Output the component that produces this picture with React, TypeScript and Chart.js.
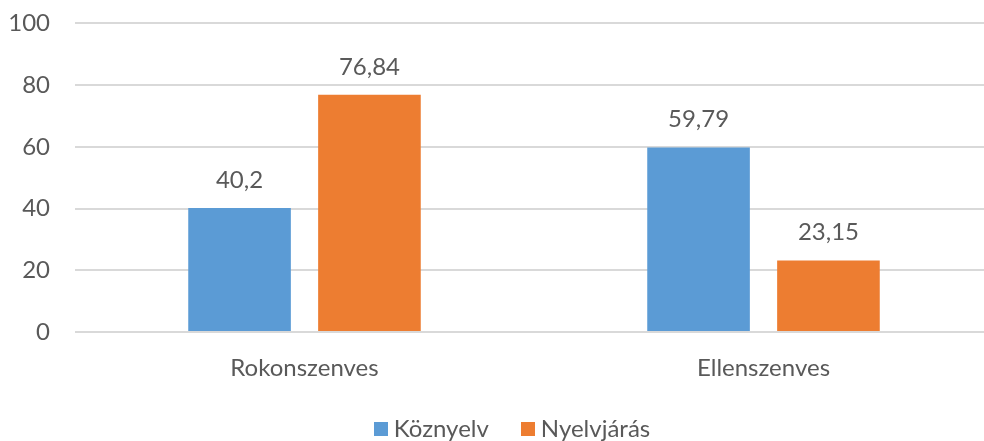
import React, { useEffect, useRef } from "react";
import { Chart, registerables } from "chart.js";

Chart.register(...registerables);

const categories = ["Rokonszenves", "Ellenszenves"];
const seriesNames = ["Köznyelv", "Nyelvjárás"];
const koznyelv = [40.2, 59.79];
const nyelvjaras = [76.84, 23.15];
const yTicks = [0, 20, 40, 60, 80, 100];
const colors = ["#5B9BD5", "#ED7D31"];

const FONT = "Lato, 'Open Sans', sans-serif";
const TEXT = "#595959";
const FS = 24;

const valueLabels = {
  id: "valueLabels",
  afterDatasetsDraw(chart: any) {
    const ctx = chart.ctx;
    ctx.save();
    ctx.font = `${FS}px ${FONT}`;
    ctx.fillStyle = TEXT;
    ctx.textAlign = "center";
    ctx.textBaseline = "middle";
    chart.data.datasets.forEach((ds: any, i: number) => {
      const meta = chart.getDatasetMeta(i);
      meta.data.forEach((bar: any, j: number) => {
        const v = ds.data[j];
        ctx.fillText(String(v).replace(".", ","), bar.x, bar.y - 28);
      });
    });
    ctx.restore();
  },
};

function makeSwatch(color: string) {
  const c = document.createElement("canvas");
  c.width = 14;
  c.height = 14;
  const g = c.getContext("2d")!;
  g.fillStyle = color;
  g.fillRect(0, 0, 14, 14);
  return c;
}

export default function App() {
  const ref = useRef<HTMLCanvasElement>(null);
  useEffect(() => {
    if (!ref.current) return;
    const swatches = colors.map(makeSwatch);
    const chart = new Chart(ref.current, {
      type: "bar",
      data: {
        labels: categories,
        datasets: [
          { label: seriesNames[0], data: koznyelv, backgroundColor: colors[0], categoryPercentage: 0.566, barPercentage: 0.79 },
          { label: seriesNames[1], data: nyelvjaras, backgroundColor: colors[1], categoryPercentage: 0.566, barPercentage: 0.79 },
        ],
      },
      options: {
        animation: false,
        responsive: false,
        layout: { padding: { top: 8, left: 0, right: 0, bottom: 0 } },
        plugins: {
          legend: {
            position: "bottom",
            labels: {
              font: { family: FONT, size: FS },
              color: TEXT,
              usePointStyle: true,
              boxWidth: 2,
              boxHeight: 14,
              padding: 38,
              generateLabels: (chart: any) => {
                const items = Chart.defaults.plugins.legend.labels.generateLabels(chart);
                return items.map((it: any, i: number) => ({ ...it, pointStyle: swatches[i] }));
              },
            },
          },
          tooltip: { enabled: false },
        },
        scales: {
          x: {
            grid: { display: false },
            border: { display: false },
            ticks: { font: { family: FONT, size: FS }, color: TEXT, padding: 14 },
            afterFit: (s: any) => { s.height = 47; },
          },
          y: {
            min: 0,
            max: 100,
            afterBuildTicks: (s: any) => { s.ticks = yTicks.map((v) => ({ value: v })); },
            grid: { color: "#D9D9D9", lineWidth: 2, drawTicks: false },
            border: { display: false },
            ticks: { font: { family: FONT, size: FS }, color: TEXT, padding: 25 },
            afterFit: (s: any) => { s.width = 75; },
          },
          y2: {
            type: "linear",
            position: "right",
            grid: { display: false },
            border: { display: false },
            ticks: { display: false },
            afterFit: (s: any) => { s.width = 37; },
          },
        },
      },
      plugins: [valueLabels],
    });
    return () => chart.destroy();
  }, []);
  return (
    <div style={{ position: "fixed", left: 0, top: 0, width: 984, height: 441, overflow: "hidden", background: "#fff" }}>
      <canvas ref={ref} width={1030} height={467} style={{ display: "block", marginTop: -16 }} />
    </div>
  );
}
